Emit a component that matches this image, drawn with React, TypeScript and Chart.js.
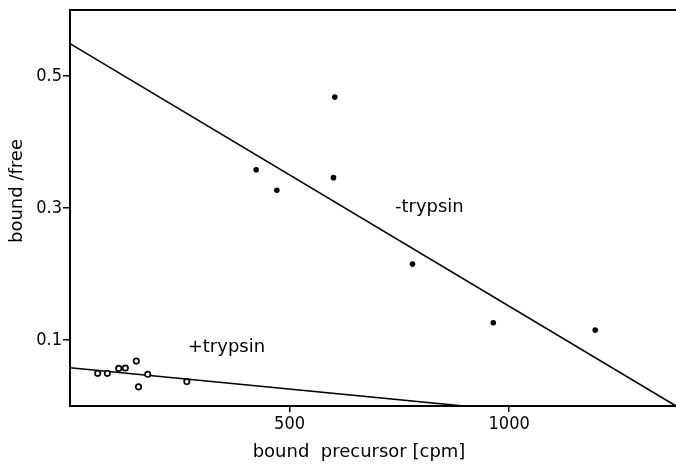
import React, { useEffect, useRef } from "react";
import { Chart, registerables } from "chart.js";

Chart.register(...registerables);

// ---- data ----
const minusX = [424, 471, 600, 603, 780, 964, 1196];
const minusY = [0.358, 0.327, 0.346, 0.468, 0.215, 0.126, 0.115];
const plusX = [63, 85, 111, 126, 151, 156, 177, 266];
const plusY = [0.0495, 0.0495, 0.057, 0.0576, 0.068, 0.029, 0.048, 0.037];
const minusFitX = [0, 1380];
const minusFitY = [0.549, 0.0];
const plusFitX = [0, 897];
const plusFitY = [0.058, 0.0];
const xTicks = [500, 1000];
const yTicks = [0.1, 0.3, 0.5];
const xTitle = "bound  precursor [cpm]";
const yTitle = "bound /free";
const seriesLabels = ["-trypsin", "+trypsin"];
const labelX = [740, 268];
const labelY = [0.3015, 0.0895];

const FONT = "'DejaVu Sans', sans-serif";
const TICK_FONT = "'DejaVu Sans Condensed', 'DejaVu Sans', sans-serif";

const zip = (xs: number[], ys: number[]) => xs.map((x, i) => ({ x, y: ys[i] }));

const textPlugin = {
  id: "textPlugin",
  afterDraw(chart: any) {
    const { ctx, chartArea, scales } = chart;
    ctx.save();
    // top border
    ctx.strokeStyle = "#000";
    ctx.lineWidth = 2;
    ctx.beginPath();
    ctx.moveTo(chartArea.left - 1, chartArea.top);
    ctx.lineTo(chartArea.right, chartArea.top);
    ctx.stroke();

    ctx.fillStyle = "#000";
    ctx.font = `18px ${FONT}`;
    ctx.textBaseline = "middle";
    // series labels
    ctx.textAlign = "left";
    seriesLabels.forEach((t, i) => {
      ctx.fillText(t, scales.x.getPixelForValue(labelX[i]), scales.y.getPixelForValue(labelY[i]));
    });
    // x title
    ctx.textAlign = "center";
    ctx.fillText(xTitle, 359, 452);
    // y title
    ctx.translate(17, 191);
    ctx.rotate(-Math.PI / 2);
    ctx.fillText(yTitle, 0, 0);
    ctx.restore();
  },
};

export default function App() {
  const ref = useRef<HTMLCanvasElement>(null);
  useEffect(() => {
    document.body.style.margin = "0";
    const chart = new Chart(ref.current as HTMLCanvasElement, {
      type: "scatter",
      data: {
        datasets: [
          {
            data: zip(minusX, minusY),
            pointRadius: 2.8,
            pointBackgroundColor: "#000",
            pointBorderColor: "#000",
            pointBorderWidth: 0,
            showLine: false,
          },
          {
            data: zip(plusX, plusY),
            pointRadius: 2.7,
            pointBackgroundColor: "#fff",
            pointBorderColor: "#000",
            pointBorderWidth: 1.7,
            showLine: false,
          },
          {
            data: zip(minusFitX, minusFitY),
            showLine: true,
            pointRadius: 0,
            borderColor: "#000",
            borderWidth: 1.6,
          },
          {
            data: zip(plusFitX, plusFitY),
            showLine: true,
            pointRadius: 0,
            borderColor: "#000",
            borderWidth: 1.6,
          },
        ] as any,
      },
      options: {
        animation: false,
        responsive: false,
        devicePixelRatio: 1,
        layout: { autoPadding: false, padding: { top: 10, right: 0, left: 0, bottom: 0 } },
        plugins: { legend: { display: false }, tooltip: { enabled: false } },
        scales: {
          x: {
            type: "linear",
            min: 0,
            max: 1380,
            afterBuildTicks: (s: any) => {
              s.ticks = xTicks.map((v) => ({ value: v }));
            },
            afterFit: (s: any) => {
              s.height = 58;
              s.paddingLeft = 0;
              s.paddingRight = 0;
            },
            grid: { drawOnChartArea: false, drawTicks: true, tickLength: 6, color: "#000", lineWidth: 1.5 },
            border: { display: true, color: "#000", width: 2 },
            ticks: {
              color: "#000",
              font: { family: TICK_FONT, size: 18 },
              padding: 2,
              maxRotation: 0,
              autoSkip: false,
              callback: (v: any) => String(v),
            },
          },
          y: {
            type: "linear",
            min: 0,
            max: 0.6,
            afterBuildTicks: (s: any) => {
              s.ticks = yTicks.map((v) => ({ value: v }));
            },
            afterFit: (s: any) => {
              s.width = 70;
              s.paddingTop = 0;
              s.paddingBottom = 0;
            },
            grid: { drawOnChartArea: false, drawTicks: true, tickLength: 7, color: "#000", lineWidth: 1.5 },
            border: { display: true, color: "#000", width: 2 },
            ticks: {
              color: "#000",
              font: { family: TICK_FONT, size: 18 },
              padding: 1,
              autoSkip: false,
              callback: (v: any) => Number(v).toFixed(1),
            },
          },
        },
      } as any,
      plugins: [textPlugin],
    });
    return () => chart.destroy();
  }, []);
  return (
    <div style={{ position: "absolute", left: 0, top: 0, width: 676, height: 464, background: "#fff" }}>
      <canvas ref={ref} width={676} height={464} style={{ display: "block", width: 676, height: 464 }} />
    </div>
  );
}
